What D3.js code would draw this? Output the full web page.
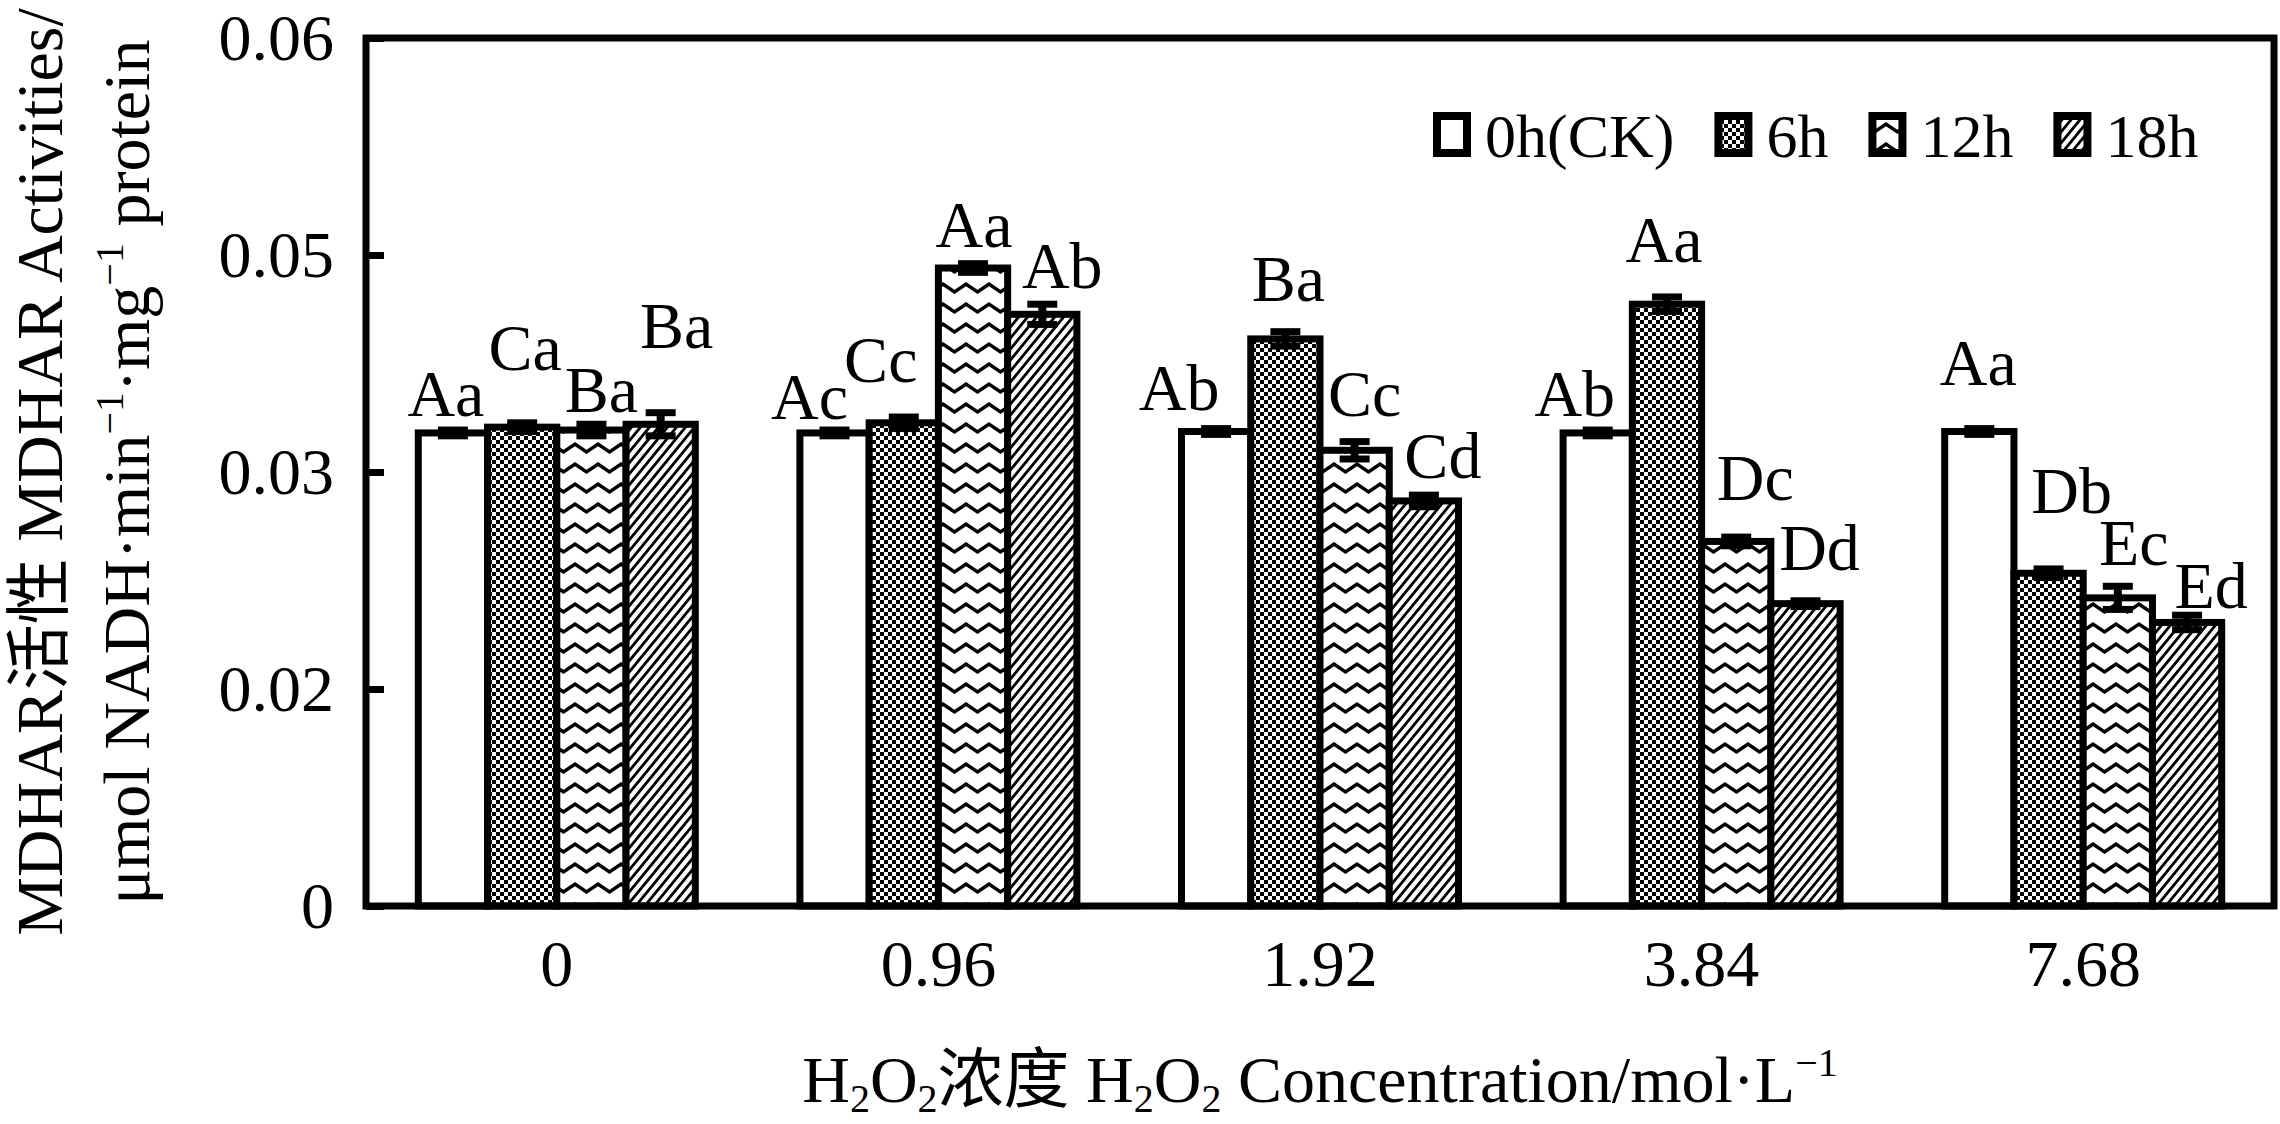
<!DOCTYPE html>
<html lang="zh">
<head>
<meta charset="UTF-8">
<title>MDHAR Activities</title>
<script src="https://d3js.org/d3.v7.min.js"></script>
<style>
  body { margin: 0; background: #fff; }
  svg { display: block; }
  text { font-family: "Liberation Serif", "Times New Roman", "Noto Sans CJK SC", serif; fill: #000; }
</style>
</head>
<body>
<div id="chart"></div>
<script>
// ---- data ----
const categories = ["0", "0.96", "1.92", "3.84", "7.68"];
const seriesNames = ["0h(CK)", "6h", "12h", "18h"];

const ck  = [0.0327, 0.0327, 0.0328, 0.0327, 0.0328];
const h6  = [0.0331, 0.0334, 0.0392, 0.0416, 0.0230];
const h12 = [0.0329, 0.0441, 0.0315, 0.0252, 0.0213];
const h18 = [0.0333, 0.0409, 0.0280, 0.0209, 0.0196];

const ckErr  = [0.0002, 0.0002, 0.0002, 0.0002, 0.0002];
const h6Err  = [0.0003, 0.0004, 0.0005, 0.0005, 0.0003];
const h12Err = [0.0004, 0.0003, 0.0006, 0.0003, 0.0008];
const h18Err = [0.0008, 0.0007, 0.0004, 0.0002, 0.0005];

const ckLetters  = ["Aa", "Ac", "Ab", "Ab", "Aa"];
const h6Letters  = ["Ca", "Cc", "Ba", "Aa", "Db"];
const h12Letters = ["Ba", "Aa", "Cc", "Dc", "Ec"];
const h18Letters = ["Ba", "Ab", "Cd", "Dd", "Ed"];

const yTickValues = [0, 0.015, 0.03, 0.045, 0.06];
const yTickLabels = ["0", "0.02", "0.03", "0.05", "0.06"];

// ---- layout ----
const W = 2280, H = 1124;
const plotL = 366, plotR = 2274, plotT = 38, plotB = 906;
const fontSize = 66;

const values = [ck, h6, h12, h18];
const errs = [ckErr, h6Err, h12Err, h18Err];
const letters = [ckLetters, h6Letters, h12Letters, h18Letters];

// hand placement of the significance letters (dx, dy in px from default spot)
const labelNudge = [
  [[-7, 0], [-25, 3], [-37, -5], [-23, 0], [-1, -30]],
  [[3, -39], [-23, -21], [3, -17], [-3, -21], [23, -42]],
  [[10, 2], [1, -3], [10, -12], [19, -23], [16, -7]],
  [[16, -51], [20, -2], [19, -3], [14, -17], [24, 7]]
];

const svg = d3.select("#chart").append("svg")
  .attr("width", W).attr("height", H);
svg.append("rect").attr("width", W).attr("height", H).attr("fill", "#fff");

// patterns
const defs = svg.append("defs");
const checker = defs.append("pattern").attr("id", "pat6")
  .attr("patternUnits", "userSpaceOnUse").attr("width", 8).attr("height", 8);
checker.append("rect").attr("width", 8).attr("height", 8).attr("fill", "#fff");
checker.append("rect").attr("width", 4).attr("height", 4).attr("fill", "#000");
checker.append("rect").attr("x", 4).attr("y", 4).attr("width", 4).attr("height", 4).attr("fill", "#000");

const zig = defs.append("pattern").attr("id", "pat12")
  .attr("patternUnits", "userSpaceOnUse").attr("width", 23).attr("height", 20);
zig.append("rect").attr("width", 23).attr("height", 20).attr("fill", "#fff");
zig.append("path").attr("d", "M-1,3.5 L11.5,12 L24,3.5")
  .attr("fill", "none").attr("stroke", "#000").attr("stroke-width", 3.4);

const diag = defs.append("pattern").attr("id", "pat18")
  .attr("patternUnits", "userSpaceOnUse").attr("width", 9).attr("height", 11);
diag.append("rect").attr("width", 9).attr("height", 11).attr("fill", "#fff");
diag.append("path").attr("d", "M-10,12.2L1,-1.2 M-1,12.2L10,-1.2 M8,12.2L19,-1.2")
  .attr("fill", "none").attr("stroke", "#000").attr("stroke-width", 2.8);

const fills = ["#fff", "url(#pat6)", "url(#pat12)", "url(#pat18)"];

// scales
const y = d3.scaleLinear().domain([0, 0.06]).range([plotB, plotT]);
const x0 = d3.scaleBand().domain(categories).range([plotL, plotR]).padding(0);
const groupW = 277;
const x1 = d3.scaleBand().domain(seriesNames)
  .range([(x0.bandwidth() - groupW) / 2, (x0.bandwidth() + groupW) / 2]).padding(0);

// rows for bars
const rows = [];
categories.forEach((c, gi) => {
  seriesNames.forEach((s, si) => {
    rows.push({cat: c, ser: s, gi, si, v: values[si][gi], e: errs[si][gi], lab: letters[si][gi]});
  });
});

const g = svg.append("g");

g.selectAll("rect.bar").data(rows).enter().append("rect")
  .attr("class", "bar")
  .attr("x", d => x0(d.cat) + x1(d.ser))
  .attr("y", d => y(d.v))
  .attr("width", x1.bandwidth())
  .attr("height", d => y(0) - y(d.v))
  .attr("fill", d => fills[d.si])
  .attr("stroke", "#000")
  .attr("stroke-width", 7);

// error bars
const eb = g.selectAll("g.err").data(rows).enter().append("g").attr("class", "err")
  .attr("transform", d => `translate(${x0(d.cat) + x1(d.ser) + x1.bandwidth() / 2},0)`);
eb.append("line").attr("y1", d => y(d.v - d.e)).attr("y2", d => y(d.v + d.e))
  .attr("stroke", "#000").attr("stroke-width", 8);
eb.append("line").attr("x1", -15).attr("x2", 15)
  .attr("y1", d => y(d.v + d.e)).attr("y2", d => y(d.v + d.e))
  .attr("stroke", "#000").attr("stroke-width", 7);
eb.append("line").attr("x1", -15).attr("x2", 15)
  .attr("y1", d => y(d.v - d.e)).attr("y2", d => y(d.v - d.e))
  .attr("stroke", "#000").attr("stroke-width", 7);

// significance letters
g.selectAll("text.lab").data(rows).enter().append("text")
  .attr("class", "lab")
  .attr("x", d => x0(d.cat) + x1(d.ser) + x1.bandwidth() / 2 + labelNudge[d.si][d.gi][0])
  .attr("y", d => y(d.v + d.e) - 14 + labelNudge[d.si][d.gi][1])
  .attr("text-anchor", "middle")
  .style("font-size", fontSize + "px")
  .text(d => d.lab);

// frame
svg.append("rect").attr("x", plotL).attr("y", plotT)
  .attr("width", plotR - plotL).attr("height", plotB - plotT)
  .attr("fill", "none").attr("stroke", "#000").attr("stroke-width", 7);

// y axis
const yAxis = d3.axisLeft(y).tickValues(yTickValues)
  .tickFormat((d, i) => yTickLabels[i]).tickSize(-18).tickPadding(32);
const ya = svg.append("g").attr("transform", `translate(${plotL},0)`).call(yAxis);
ya.select(".domain").remove();
ya.selectAll(".tick line").attr("stroke", "#000").attr("stroke-width", 7);
ya.selectAll(".tick text").style("font-size", fontSize + "px")
  .style("font-family", "'Liberation Serif', serif");

// x axis
const xAxis = d3.axisBottom(x0).tickSize(0).tickPadding(33);
const xa = svg.append("g").attr("transform", `translate(0,${plotB})`).call(xAxis);
xa.select(".domain").remove();
xa.selectAll(".tick text").style("font-size", fontSize + "px")
  .style("font-family", "'Liberation Serif', serif");

// x title
const xt = svg.append("text").attr("x", (plotL + plotR) / 2).attr("y", 1102)
  .attr("text-anchor", "middle").style("font-size", fontSize + "px");
const sub = 10;
xt.append("tspan").text("H");
xt.append("tspan").attr("dy", sub).style("font-size", "40px").text("2");
xt.append("tspan").attr("dy", -sub).text("O");
xt.append("tspan").attr("dy", sub).style("font-size", "40px").text("2");
xt.append("tspan").attr("dy", -sub).text("浓度 H");
xt.append("tspan").attr("dy", sub).style("font-size", "40px").text("2");
xt.append("tspan").attr("dy", -sub).text("O");
xt.append("tspan").attr("dy", sub).style("font-size", "40px").text("2");
xt.append("tspan").attr("dy", -sub).text(" Concentration/mol·L");
xt.append("tspan").attr("dy", -26).style("font-size", "40px").text("−1");

// y title (two lines)
svg.append("text").attr("transform", `translate(62,${(plotT + plotB) / 2}) rotate(-90)`)
  .attr("text-anchor", "middle").style("font-size", fontSize + "px")
  .text("MDHAR活性 MDHAR Activities/");
const yt2 = svg.append("text").attr("transform", `translate(149,${(plotT + plotB) / 2}) rotate(-90)`)
  .attr("text-anchor", "middle").style("font-size", fontSize + "px");
yt2.append("tspan").text("μmol NADH·min");
yt2.append("tspan").attr("dy", -26).style("font-size", "40px").text("−1");
yt2.append("tspan").attr("dy", 26).text("·mg");
yt2.append("tspan").attr("dy", -26).style("font-size", "40px").text("−1");
yt2.append("tspan").attr("dy", 26).text(" protein");

// legend
const leg = svg.append("g");
let lx = 1433;
seriesNames.forEach((s, i) => {
  leg.append("rect").attr("x", lx + 4).attr("y", 116).attr("width", 30).attr("height", 37)
    .attr("fill", fills[i]).attr("stroke", "#000").attr("stroke-width", 8);
  const t = leg.append("text").attr("x", lx + 38 + 14).attr("y", 157)
    .style("font-size", "62px").text(s);
  lx += 38 + 14 + t.node().getComputedTextLength() + 40;
});
</script>
</body>
</html>
